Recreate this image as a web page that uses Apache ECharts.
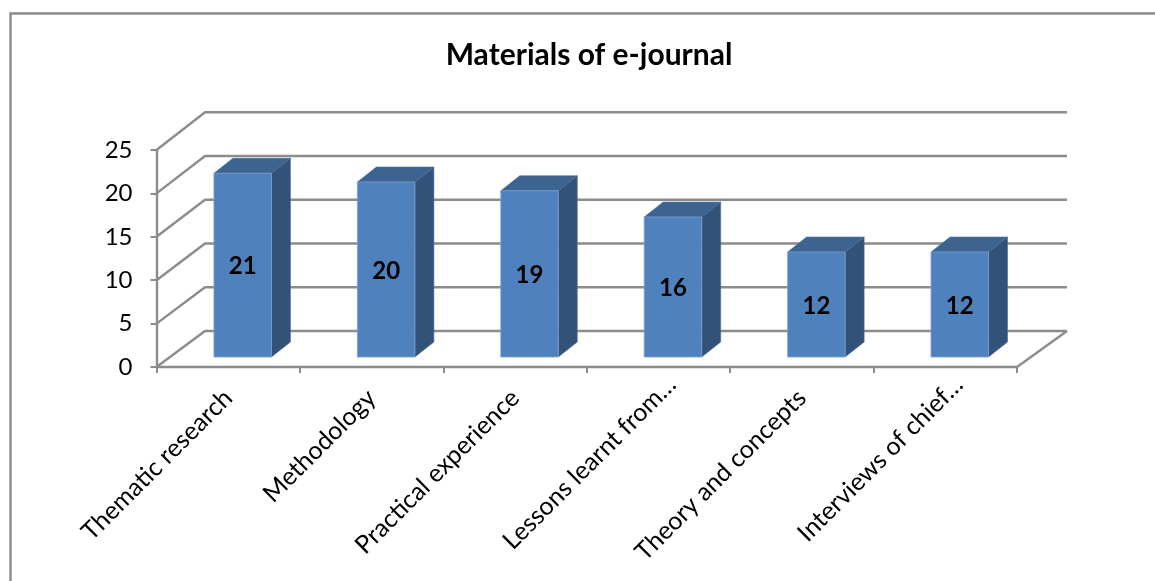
<!DOCTYPE html>
<html>
<head>
<meta charset="utf-8">
<style>
  html, body { margin: 0; padding: 0; background: #fff; }
  #chart { width: 1155px; height: 581px; }
</style>
<script src="https://cdn.jsdelivr.net/npm/echarts@6/dist/echarts.min.js"></script>
</head>
<body>
<div id="chart"></div>
<script>
const categories = [
  'Thematic research',
  'Methodology',
  'Practical experience',
  'Lessons learnt from\u2026',
  'Theory and concepts',
  'Interviews of chief\u2026'
];
const values = [21, 20, 19, 16, 12, 12];
const wallTicks = [0, 5, 10, 15, 20, 25];

// Oblique projection used for the pseudo-3D walls and boxes
const wallDepthLeft = 48.5;
const wallDepthRight = 50;
const wallRise = -36;
const barShift = [14.5, -10];
const barDepth = [19, -15];
const barWidth = 57.5;
const depthScale = 1.008; // vertical scale grows slightly toward the back wall
const gridColor = '#8c8c8c';
const fontFamily = 'Lato, "Open Sans", sans-serif';

function renderWallLine(params, api) {
  const sys = params.coordSys;
  const v = api.value(0);
  const y = api.coord([0, v])[1];
  const floor = api.coord([0, 0])[1];
  const backY = floor + wallRise - (floor - y) * depthScale;
  const x0 = sys.x;
  const x1 = sys.x + sys.width;
  const children = [{
    type: 'polyline',
    shape: {
      points: [
        [x0, y],
        [x0 + wallDepthLeft, backY],
        [x1 + wallDepthRight, backY]
      ]
    },
    style: { fill: null, stroke: gridColor, lineWidth: 2.4 }
  }];
  if (v === 0) {
    children.push({
      type: 'line',
      shape: { x1, y1: y, x2: x1 + wallDepthRight, y2: backY },
      style: { stroke: gridColor, lineWidth: 2.4 }
    });
  }
  return { type: 'group', children };
}

function renderBox(params, api) {
  const idx = api.value(0);
  const top = api.coord([idx, api.value(1)]);
  const base = api.coord([idx, 0]);
  const l = top[0] + barShift[0] - barWidth / 2;
  const r = l + barWidth;
  const b = base[1] + barShift[1];
  const t = b - (base[1] - top[1]) * depthScale;
  const dx = barDepth[0];
  const dy = barDepth[1];
  return {
    type: 'group',
    children: [
      {
        type: 'polygon',
        shape: { points: [[r, t], [r + dx, t + dy], [r + dx, b + dy], [r, b]] },
        style: { fill: '#32527a', stroke: '#4a6e9c', lineWidth: 0.6 }
      },
      {
        type: 'polygon',
        shape: { points: [[l, t], [l + dx, t + dy], [r + dx, t + dy], [r, t]] },
        style: { fill: '#3d6390', stroke: '#4a6e9c', lineWidth: 0.6 }
      },
      {
        type: 'rect',
        shape: { x: l, y: t, width: barWidth, height: b - t },
        style: { fill: '#4f81bd', stroke: '#7aa0d0', lineWidth: 0.8 }
      },
      {
        type: 'text',
        style: {
          x: (l + r) / 2,
          y: (t + b) / 2 + 1.5,
          text: String(api.value(1)),
          align: 'center',
          verticalAlign: 'middle',
          fill: '#000',
          font: 'bold 24px ' + fontFamily
        }
      }
    ]
  };
}

// Truncated labels run further past their tick than the complete ones
const categoryData = categories.map(name => (
  name.endsWith('\u2026')
    ? { value: name, textStyle: { padding: [0, -19, 0, 0] } }
    : { value: name }
));

const chart = echarts.init(document.getElementById('chart'), null, { renderer: 'canvas' });
chart.setOption({
  animation: false,
  backgroundColor: '#ffffff',
  title: {
    text: 'Materials of e-journal',
    left: 584,
    top: 35,
    textAlign: 'center',
    textStyle: { fontFamily, fontWeight: 'bold', fontSize: 30, color: '#000' }
  },
  graphic: [{
    type: 'polyline',
    shape: { points: [[10.5, 581], [10.5, 13.5], [1155, 13.5]] },
    style: { fill: null, stroke: '#8a8a8a', lineWidth: 2.4 }
  }],
  grid: { left: 156.5, top: 150, width: 860.5, height: 217 },
  xAxis: {
    type: 'category',
    data: categoryData,
    boundaryGap: true,
    axisLine: { show: true, lineStyle: { color: gridColor, width: 2.4 } },
    axisTick: { show: true, alignWithLabel: false, length: 6, lineStyle: { color: gridColor, width: 2 } },
    axisLabel: {
      interval: 0,
      rotate: 45,
      margin: 27,
      color: '#000',
      fontFamily,
      fontSize: 25
    }
  },
  yAxis: {
    type: 'value',
    min: 0,
    max: 25,
    interval: 5,
    splitLine: { show: false },
    axisLine: { show: true, lineStyle: { color: gridColor, width: 2.4 } },
    axisTick: { show: true, length: 6, lineStyle: { color: gridColor, width: 2 } },
    axisLabel: { margin: 24, padding: [5, 0, 0, 0], color: '#000', fontFamily, fontSize: 24 }
  },
  series: [
    {
      type: 'custom',
      z: 1,
      clip: false,
      silent: true,
      data: wallTicks.map(v => [v]),
      encode: { y: 0 },
      renderItem: renderWallLine
    },
    {
      type: 'custom',
      z: 3,
      clip: false,
      data: values.map((v, i) => [i, v]),
      encode: { x: 0, y: 1 },
      renderItem: renderBox
    }
  ]
});
</script>
</body>
</html>
